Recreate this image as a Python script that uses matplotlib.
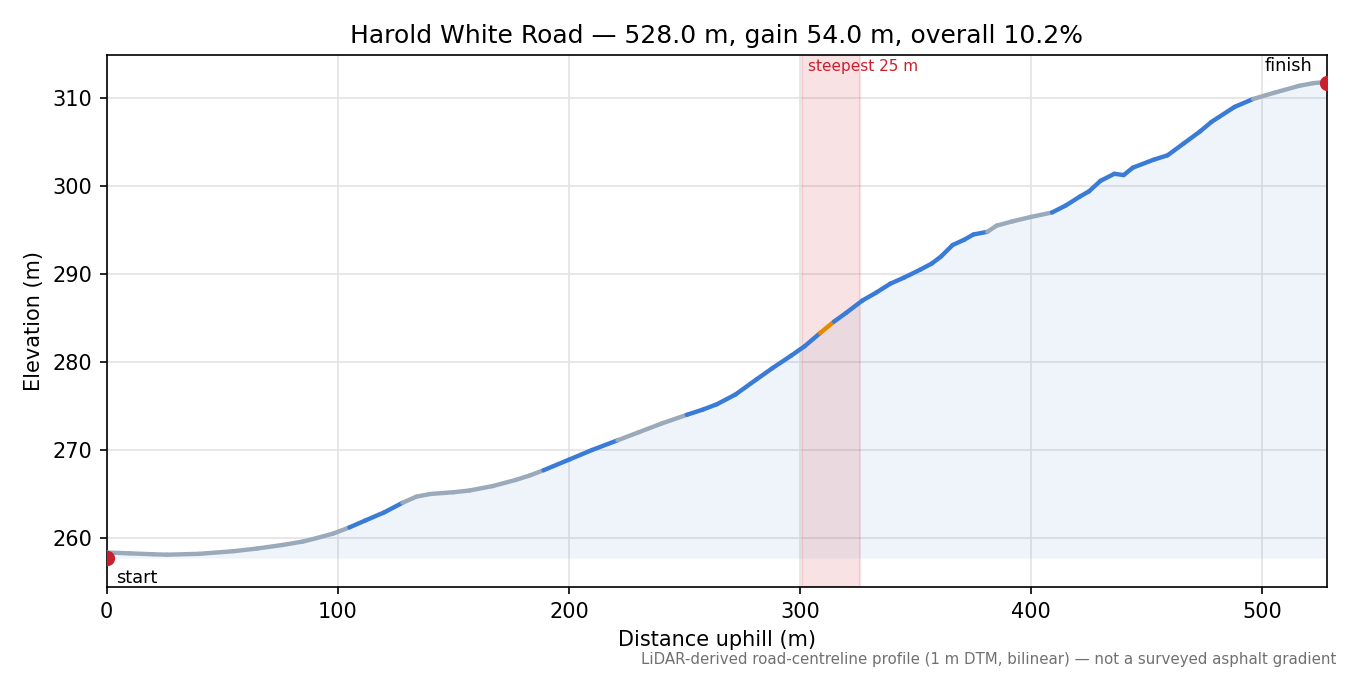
"""
Road elevation profile, coloured by local gradient class.
"""

import matplotlib
matplotlib.use("Agg")
import matplotlib.pyplot as plt
import numpy as np
from matplotlib.collections import LineCollection

# ── data ─────────────────────────────────────────────────────────────────────
ROAD       = "Harold White Road"
LENGTH_M   = 528.0
GAIN_M     = 54.0
OVERALL    = 10.2
START_ELEV = 257.7
END_ELEV   = 311.7
STEEP_WIN  = (301.0, 326.0)

dist = [0, 10, 20, 26, 40, 55, 65, 76, 85, 91, 98, 105, 112, 120, 128, 134,
        140, 150, 157, 167, 177, 183, 189, 200, 210, 221, 230, 240, 251, 258,
        264, 272, 281, 288, 296, 302, 308.7, 314.7, 320, 327, 333, 339, 345,
        352, 357, 361, 366, 371, 375, 381, 385, 392, 400, 409, 415, 421, 425,
        430, 436, 440, 444, 453, 459, 466, 473, 478, 488, 496, 505, 516, 522,
        528]
elev = [258.35, 258.25, 258.15, 258.1, 258.2, 258.5, 258.8, 259.2, 259.6, 260.0,
        260.5, 261.2, 262.0, 262.9, 264.0, 264.7, 265.0, 265.2, 265.4, 265.9,
        266.6, 267.1, 267.7, 268.9, 270.0, 271.1, 272.0, 273.0, 274.0, 274.6,
        275.2, 276.3, 278.0, 279.3, 280.7, 281.8, 283.3, 284.6, 285.6, 287.0,
        287.9, 288.9, 289.6, 290.5, 291.2, 292.0, 293.3, 293.9, 294.5, 294.8,
        295.5, 296.0, 296.5, 297.0, 297.8, 298.8, 299.4, 300.6, 301.4, 301.25,
        302.1, 303.0, 303.5, 304.85, 306.2, 307.3, 309.0, 309.9, 310.6, 311.4,
        311.7, 311.85]

# gradient class runs along the profile: (from m, to m, class)
GRADE_RUNS = [(0, 105, "easy"), (105, 128, "steep"), (128, 189, "easy"),
              (189, 221, "steep"), (221, 251, "easy"), (251, 308.7, "steep"),
              (308.7, 314.7, "max"), (314.7, 381, "steep"), (381, 409, "easy"),
              (409, 496, "steep"), (496, 528, "easy")]
CLASS_COL = {"easy": "#9aaabb", "steep": "#3a7bd8", "max": "#e68a00"}

dist = np.asarray(dist, dtype=float)
elev = np.asarray(elev, dtype=float)


def seg_class(mid):
    for lo, hi, c in GRADE_RUNS:
        if lo <= mid <= hi:
            return c
    return "easy"


# ── figure ───────────────────────────────────────────────────────────────────
fig = plt.figure(figsize=(9, 4.5), dpi=150)
ax = fig.add_axes([0.079, 0.130, 0.904, 0.7885])

ax.grid(True, color="#e3e3e3", lw=0.8)
ax.set_axisbelow(True)

ax.fill_between(dist, elev, START_ELEV, color="#3a7bd8", alpha=0.08, lw=0)

ax.axvspan(*STEEP_WIN, facecolor="#d9404a", alpha=0.15,
           edgecolor="#d9404a", lw=1.0)
ax.text(STEEP_WIN[0] + 2.5, 313.6, "steepest 25 m", color="#cc1f2d",
        fontsize=7.3, va="center")

pts = np.column_stack([dist, elev])
segs = np.stack([pts[:-1], pts[1:]], axis=1)
cols = [CLASS_COL[seg_class((a + b) / 2)] for a, b in zip(dist[:-1], dist[1:])]
lc = LineCollection(segs, colors=cols, linewidths=2.1, capstyle="round",
                    joinstyle="round", zorder=3)
ax.add_collection(lc)

ax.scatter([0, LENGTH_M], [START_ELEV, END_ELEV], s=40, color="#cc1f2d",
           zorder=4)
ax.text(4, 255.5, "start", fontsize=8.5, va="center")
ax.text(501, 313.7, "finish", fontsize=8.5, va="center")

ax.set_xlim(0, LENGTH_M)
ax.set_ylim(254.4, 314.9)
ax.set_xticks([0, 100, 200, 300, 400, 500])
ax.set_yticks([260, 270, 280, 290, 300, 310])
ax.tick_params(labelsize=10)
ax.set_xlabel("Distance uphill (m)", fontsize=10)
ax.set_ylabel("Elevation (m)", fontsize=10)
ax.set_title(f"{ROAD} — {LENGTH_M:.1f} m, gain {GAIN_M:.1f} m, overall {OVERALL:.1f}%",
             fontsize=12)

fig.text(0.99, 0.012,
         "LiDAR-derived road-centreline profile (1 m DTM, bilinear) — not a surveyed asphalt gradient",
         ha="right", va="bottom", fontsize=7.2, color="#707070")

fig.savefig("out.png", dpi=150)
